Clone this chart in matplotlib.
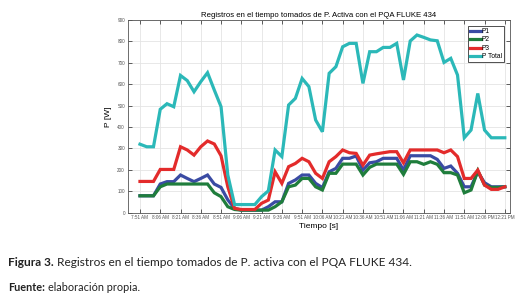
import matplotlib
matplotlib.use('Agg')
import matplotlib.pyplot as plt
import pandas as pd

# 5-minute samples from 7:51 AM to 12:21 PM
times = pd.date_range('2020-01-01 07:51', periods=55, freq='5min')
p1 = [79, 79, 79, 134, 145, 145, 176, 160, 145, 160, 176, 134, 118, 60, 20, 12, 12, 12, 12, 28,
      51, 51, 137, 153, 176, 176, 137, 117, 191, 207, 254, 254, 265, 199, 233, 238, 254, 254, 254, 199,
      266, 266, 266, 266, 249, 207, 218, 184, 121, 121, 191, 140, 121, 121, 121]
p2 = [79, 79, 79, 121, 134, 134, 134, 134, 134, 134, 134, 93, 75, 28, 15, 12, 12, 12, 12, 12,
      28, 51, 121, 129, 160, 160, 121, 106, 184, 184, 227, 227, 227, 176, 212, 227, 227, 227, 227, 179,
      238, 238, 226, 238, 226, 187, 187, 176, 93, 106, 196, 129, 118, 118, 121]
p3 = [146, 146, 146, 202, 202, 202, 308, 293, 269, 308, 335, 321, 266, 121, 20, 15, 15, 15, 44, 59,
      191, 137, 215, 230, 254, 238, 184, 160, 238, 262, 293, 280, 277, 222, 269, 275, 280, 285, 285, 233,
      293, 293, 293, 293, 293, 280, 293, 262, 160, 160, 199, 129, 109, 109, 121]
ptotal = [320, 308, 308, 483, 509, 495, 641, 617, 565, 612, 654, 573, 495, 176, 38, 38, 38, 38, 75, 102,
          293, 262, 503, 534, 627, 589, 433, 378, 651, 682, 775, 791, 791, 604, 752, 752, 772, 772, 791, 620,
          802, 830, 819, 807, 803, 702, 721, 643, 350, 386, 557, 386, 350, 350, 350]
labels = ['P1', 'P2', 'P3', 'P Total']
colors = ['#3a4ba3', '#1f7d3c', '#e32b2b', '#2bb8b8']

plt.rcParams['font.family'] = ['Liberation Sans', 'DejaVu Sans']

x = times.hour * 60 + times.minute
fig = plt.figure(figsize=(5.19, 3.02), dpi=100)
ax = fig.add_axes([0.246, 0.2957, 0.7363, 0.638])

for y, lab, c in zip([p1, p2, p3, ptotal], labels, colors):
    ax.plot(x, y, color=c, lw=2.3, label=lab, solid_joinstyle='miter')

ax.set_xlim(461.9, 744.7)
ax.set_ylim(0, 900)
ax.set_yticks(range(0, 901, 100))
tick_x = x[::3]
tick_lab = [t.strftime('%I:%M %p').lstrip('0') for t in times[::3]]
ax.set_xticks(tick_x)
ax.set_xticklabels(tick_lab)
ax.tick_params(direction='in', length=3, width=0.6, top=True, right=True,
               labelsize=3.3, labelcolor='#555555', color='#444444', pad=2)
ax.grid(True, color='#e4e4e4', lw=0.6)
ax.set_axisbelow(True)
for s in ax.spines.values():
    s.set_color('#555555')
    s.set_linewidth(0.6)

ax.set_title('Registros en el tiempo tomados de P. Activa con el PQA FLUKE 434',
             fontsize=5.6, pad=2.5)
ax.set_xlabel('Tiempo [s]', fontsize=6, labelpad=2)
ax.set_ylabel('P [W]', fontsize=6, labelpad=4)

leg = ax.legend(loc='upper right', fontsize=4.8, handlelength=1.6, handletextpad=0.15,
                borderpad=0.3, labelspacing=0.22, fancybox=False, framealpha=1,
                edgecolor='#333333', borderaxespad=0.9)
leg.get_frame().set_linewidth(0.6)

# caption below the chart
fig.canvas.draw()
r = fig.canvas.get_renderer()
t1 = fig.text(8 / 519, 1 - 266 / 302, 'Figura 3.', fontsize=8.6, fontweight='bold',
              family='Lato', color='#222222')
w1 = t1.get_window_extent(r).width
fig.text((8 + w1 + 3) / 519, 1 - 266 / 302,
         'Registros en el tiempo tomados de P. activa con el PQA FLUKE 434.',
         fontsize=8.6, family='Lato', color='#222222')
t2 = fig.text(8 / 519, 1 - 291 / 302, 'Fuente:', fontsize=7.8, fontweight='bold',
              family='Lato', color='#222222')
w2 = t2.get_window_extent(r).width
fig.text((8 + w2 + 3) / 519, 1 - 291 / 302, 'elaboración propia.', fontsize=7.8,
         family='Lato', color='#222222')

plt.savefig('out.png', dpi=100)
